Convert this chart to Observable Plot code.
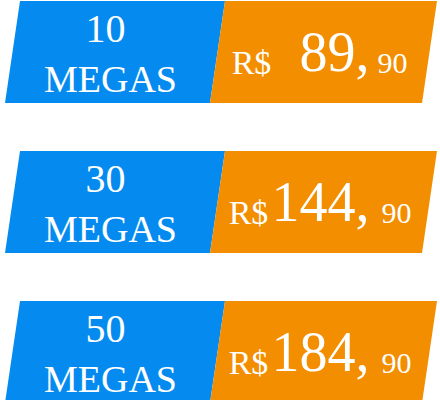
<!DOCTYPE html>
<html>
<head>
<meta charset="utf-8">
<script src="https://cdn.jsdelivr.net/npm/d3@7"></script>
<script src="https://cdn.jsdelivr.net/npm/@observablehq/plot@0.6"></script>
<style>
  body { margin: 0; background: #fff; }
</style>
</head>
<body>
<div id="chart"></div>
<script>
// plan values
const megas = ["10", "30", "50"];
const reais = ["89,", "144,", "184,"];
const centavos = ["90", "90", "90"];
const rowTop = [1, 151, 301];

const rowH = 102;
const blue = "#058bf0";
const orange = "#f28e00";

// parallelogram outlines: two points per row, x shifts by 15px from top to bottom
let blueShape = [], orangeShape = [];
rowTop.forEach((t, i) => {
  blueShape.push({row: i, y: t, x1: 20, x2: 225});
  blueShape.push({row: i, y: t + rowH, x1: 5, x2: 210});
  orangeShape.push({row: i, y: t, x1: 225, x2: 437});
  orangeShape.push({row: i, y: t + rowH, x1: 210, x2: 422});
});

const rows = megas.map((m, i) => ({m, r: reais[i], c: centavos[i], t: rowTop[i], i}));
// x positions of the price parts (row 0 has a wider gap after R$)
const rsX = [251, 248, 248];
const numX = [334, 320, 320];
const centX = [392, 396, 396];

const chart = Plot.plot({
  width: 440,
  height: 400,
  margin: 0,
  x: {domain: [0, 440], axis: null},
  y: {domain: [0, 400], axis: null, reverse: true},
  style: {fontFamily: "'Liberation Serif', 'DejaVu Serif', serif"},
  marks: [
    Plot.areaX(blueShape, {y: "y", x1: "x1", x2: "x2", z: "row", fill: blue, curve: "linear"}),
    Plot.areaX(orangeShape, {y: "y", x1: "x1", x2: "x2", z: "row", fill: orange, curve: "linear"}),
    Plot.text(rows, {x: 105, y: d => d.t + 28, text: "m", fill: "white", fontSize: 40}),
    Plot.text(rows, {x: 110, y: d => d.t + 78, text: () => "MEGAS", fill: "white", fontSize: 38}),
    Plot.text(rows, {x: d => rsX[d.i], y: d => d.t + 62, text: () => "R$", fill: "white", fontSize: 34}),
    Plot.text(rows, {x: d => numX[d.i], y: d => d.t + 52, text: "r", fill: "white", fontSize: 56}),
    Plot.text(rows, {x: d => centX[d.i], y: d => d.t + 62, text: "c", fill: "white", fontSize: 30})
  ]
});

document.getElementById("chart").append(chart);
</script>
</body>
</html>
